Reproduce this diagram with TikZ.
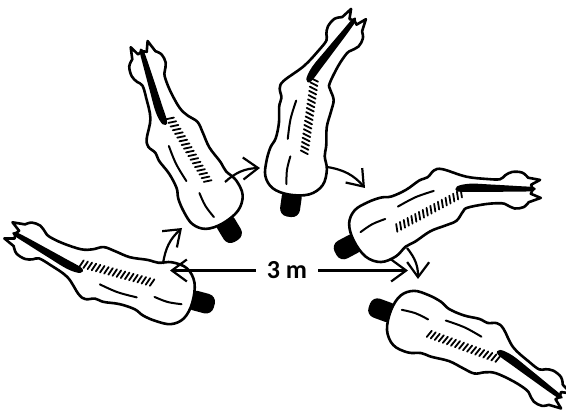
\documentclass[tikz,border=0pt]{standalone}
\usepackage{fontspec}
\setsansfont{Carlito}
\usetikzlibrary{arrows.meta}
\tikzset{
  outline/.style={line width=2.6pt, line join=round, line cap=round},
  detail/.style={line width=2pt, line cap=round},
  tickmark/.style={line width=1.8pt, line cap=round},
  move/.style={line width=2.2pt, -{Straight Barb[length=15pt,width=22pt,line width=2.2pt]}},
  pics/horse/.style={code={
    \fill[black, rounded corners=8pt] (-22,-10) rectangle (6,10);
    \begin{scope}[rotate around={#1:(112,0)}]
      \coordinate (nl1) at (124,14);
      \coordinate (nl2) at (145,12);
      \coordinate (nl3) at (158,12);
      \coordinate (hl0) at (163,16);
      \coordinate (hl1) at (170,19.5);
      \coordinate (hl2) at (180,19);
      \coordinate (hl3) at (186,14);
      \coordinate (el) at (198,12);
      \coordinate (ei) at (189,7);
      \coordinate (em) at (191,2.5);
      \coordinate (ej) at (189,-2);
      \coordinate (er) at (199,-6);
      \coordinate (hr3) at (187,-10.5);
      \coordinate (hr2) at (182,-15.5);
      \coordinate (hr1) at (173,-17);
      \coordinate (hr0) at (165,-13.5);
      \coordinate (nr3) at (160,-12);
      \coordinate (nr2) at (145,-13);
      \coordinate (nr1) at (126,-17);
    \end{scope}
    \draw[outline, fill=white] (el) -- plot[smooth, tension=0.6] coordinates {
      (hl3) (hl2) (hl1) (hl0) (nl3) (nl2) (nl1)
      (112,24) (104,27) (95,24) (86,25) (70,23) (54,24) (44,28) (30,30) (15,29) (4,20) (0,3)
      (3,-17) (14,-29) (30,-31) (43,-27) (54,-27) (72,-25) (88,-27) (100,-28) (110,-23)
      (nr1) (nr2) (nr3) (hr0) (hr1) (hr2) (hr3)} -- (er) -- (ej) -- (em) -- (ei) -- cycle;
    \begin{scope}[rotate around={#1:(112,0)}]
      \fill[black] plot[smooth cycle, tension=0.6] coordinates {
        (192,4.5) (175,5.5) (150,6.5) (128,7) (115,4) (116,-1) (135,-1) (160,-0.5) (180,0) (192,1)};
    \end{scope}
    \foreach \t in {0,...,17} {
      \draw[tickmark] ({44+4.3*\t-1.3},-10) -- ({44+4.3*\t+1.3},-2.5);
    }
    \draw[detail] plot[smooth, tension=0.6] coordinates {(55,12) (75,12) (94,9)};
    \draw[detail] plot[smooth, tension=0.6] coordinates {(10,7) (24,8.5) (38,7)};
  }}
}
\begin{document}
\begin{tikzpicture}[x=1pt,y=1pt]
  \useasboundingbox (0,0) rectangle (566,-411);
  \pic[rotate=165] at (193,-300) {horse=-15};
  \pic[rotate=121] at (225,-222) {horse=-14};
  \pic[rotate=82] at (292,-195) {horse=-30};
  \pic[rotate=28] at (355,-243) {horse=-29};
  \pic[rotate=-20] at (390,-313) {horse=-17};
  % circling arrows
  \coordinate (a1s) at (163,-264);
  \coordinate (a1e) at (182,-228);
  \coordinate (a2s) at (225,-182);
  \coordinate (a2e) at (260,-168);
  \coordinate (a3s) at (327,-167);
  \coordinate (a3e) at (365,-188);
  \coordinate (a4s) at (407,-248);
  \coordinate (a4e) at (418,-279);
  \draw[move] (a1s) to[bend left=20] (a1e);
  \draw[move] (a2s) to[bend left=20] (a2e);
  \draw[move] (a3s) to[bend left=20] (a3e);
  \draw[move] (a4s) to[bend left=20] (a4e);
  % distance
  \node[font=\sffamily\bfseries\fontsize{26}{30}\selectfont, inner xsep=11pt, inner ysep=0pt] (dist) at (287,-270.5) {3 m};
  \coordinate (dl) at (170,-270.5);
  \coordinate (dr) at (408,-270.5);
  \draw[move] (dist.west) -- (dl);
  \draw[move] (dist.east) -- (dr);
\end{tikzpicture}
\end{document}
